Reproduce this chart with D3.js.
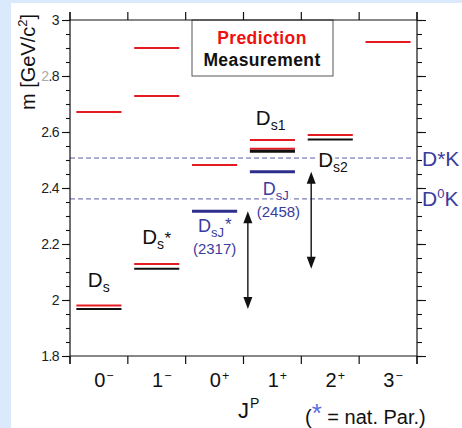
<!DOCTYPE html>
<html><head><meta charset="utf-8">
<script src="https://cdn.jsdelivr.net/npm/d3@7"></script>
<style>
html,body{margin:0;padding:0;background:#dbe9fc;}
svg{display:block;font-family:"Liberation Sans",Arial,sans-serif;}
</style></head><body>
<svg id="c" width="462" height="428"></svg>
<script>
// ---------- data ----------
const categories = ["0−","1−","0+","1+","2+","3−"];
const predictions = [
  {cat:"0−", m:2.671}, {cat:"0−", m:1.980},
  {cat:"1−", m:2.900}, {cat:"1−", m:2.729}, {cat:"1−", m:2.129},
  {cat:"0+", m:2.482},
  {cat:"1+", m:2.571}, {cat:"1+", m:2.540},
  {cat:"2+", m:2.589},
  {cat:"3−", m:2.921}
];
const measurements = [
  {cat:"0−", m:1.968}, {cat:"1−", m:2.112}, {cat:"1+", m:2.531}, {cat:"2+", m:2.573}
];
const newStates = [ {cat:"0+", m:2.317}, {cat:"1+", m:2.458} ];
const thresholds = [ {name:"D", sup:"*", after:"K", m:2.507, supRaised:false}, {name:"D", sup:"0", after:"K", m:2.361, supRaised:true} ];
const arrows = [ {cat:"1+", from:2.317, to:1.968}, {cat:"2+", from:2.458, to:2.112} ];
const yTicks = [1.8, 2.0, 2.2, 2.4, 2.6, 2.8, 3.0];
const yMinor = d3.range(1.8, 3.0001, 0.05);
const stateLabels = [
  {cat:"0−", m:1.968, sub:"s", star:false, mass:null, kind:"meas"},
  {cat:"1−", m:2.112, sub:"s", star:true,  mass:null, kind:"meas"},
  {cat:"1+", m:2.531, sub:"s1", star:false, mass:null, kind:"meas"},
  {cat:"2+", m:2.573, sub:"s2", star:false, mass:null, kind:"meas"},
  {cat:"0+", m:2.317, sub:"sJ", star:true,  mass:"(2317)", kind:"new"},
  {cat:"1+", m:2.458, sub:"sJ", star:false, mass:"(2458)", kind:"new"}
];

// ---------- layout ----------
const svg = d3.select("#c");
const L = 70, R = 417, T = 20, B = 356;
const RED = "#e51b22", NAVY = "#2d2d8c", NAVYTXT = "#3b3b9e", DASH = "#5b5bab";

svg.append("rect").attr("x",11).attr("y",3).attr("width",451).attr("height",425).attr("fill","#fff");

const x = d3.scaleBand().domain(categories).range([L, R]).paddingInner(0.22).paddingOuter(0.11);
const y = d3.scaleLinear().domain([1.8, 3]).range([B, T]);
const step = x.step();
const bstart = c => x(c) - step * 0.11;
const boundaries = categories.map(bstart).concat([R]);

// dashed thresholds
svg.append("g").selectAll("line").data(thresholds).join("line")
  .attr("x1", L).attr("x2", R - 4)
  .attr("y1", d => y(d.m)).attr("y2", d => y(d.m))
  .attr("stroke", DASH).attr("stroke-width", 1).attr("stroke-dasharray", "5,3");

// legend box
svg.append("rect").attr("x", 192).attr("y", T).attr("width", 141).attr("height", 56)
  .attr("fill", "#fff").attr("stroke", "#555").attr("stroke-width", 1);
svg.append("text").attr("x", 262).attr("y", 44).attr("text-anchor","middle").attr("letter-spacing","0.4")
  .attr("font-size", 17.5).attr("font-weight","bold").attr("fill", "#ee1111").text("Prediction");
svg.append("text").attr("x", 262).attr("y", 66).attr("text-anchor","middle").attr("letter-spacing","0.4")
  .attr("font-size", 17.5).attr("font-weight","bold").attr("fill", "#111").text("Measurement");

// axes lines
const ax = svg.append("g").attr("stroke","#111").attr("stroke-width",1.2);
ax.append("line").attr("x1",L).attr("x2",L).attr("y1",T-8).attr("y2",B+8);
ax.append("line").attr("x1",R).attr("x2",R).attr("y1",T-8).attr("y2",B+8);
ax.append("line").attr("x1",L).attr("x2",R).attr("y1",T).attr("y2",T);
ax.append("line").attr("x1",L).attr("x2",R).attr("y1",B).attr("y2",B);
ax.selectAll(".tt").data(boundaries).join("line").attr("class","tt")
  .attr("x1",d=>d).attr("x2",d=>d).attr("y1",T-8).attr("y2",T);
ax.selectAll(".bt").data(boundaries).join("line").attr("class","bt")
  .attr("x1",d=>d).attr("x2",d=>d).attr("y1",B).attr("y2",B+8);

function styleAxis(g){ g.select(".domain").remove(); g.selectAll("line").attr("stroke","#111").attr("stroke-width",1.1); }
svg.append("g").attr("transform",`translate(${L},0)`)
  .call(d3.axisLeft(y).tickValues(yMinor).tickSize(4).tickFormat("")).call(styleAxis);
const yl = svg.append("g").attr("transform",`translate(${L},0)`)
  .call(d3.axisLeft(y).tickValues(yTicks).tickSize(8).tickPadding(3).tickFormat(d3.format("~g"))).call(styleAxis);
yl.selectAll("text").attr("font-size",14).attr("letter-spacing","-0.6").attr("fill","#222")
  .attr("font-family",'"Liberation Sans",Arial,sans-serif');
yl.selectAll(".tick").filter(d => Math.abs(d-2.8)<1e-9).select("text").each(function(){
  const t = d3.select(this); t.text("");
  t.append("tspan").attr("fill","#aaa").text("2");
  t.append("tspan").text(".8");
});
svg.append("g").attr("transform",`translate(${R},0)`)
  .call(d3.axisRight(y).tickValues(yMinor).tickSize(5).tickFormat("")).call(styleAxis);
svg.append("g").attr("transform",`translate(${R},0)`)
  .call(d3.axisRight(y).tickValues(yTicks).tickSize(9).tickFormat("")).call(styleAxis);

// y label
const ylab = svg.append("text").attr("transform","translate(35,62) rotate(-90)")
  .attr("text-anchor","middle").attr("font-size",20).attr("fill","#111");
ylab.append("tspan").text("m [GeV/c");
ylab.append("tspan").attr("font-size",13).attr("dy",-8).text("2");
ylab.append("tspan").attr("dy",8).text("]");

// x labels
categories.forEach(c => {
  const t = svg.append("text").attr("x", x(c) + x.bandwidth()/2 + 5).attr("y", 387)
    .attr("text-anchor","middle").attr("font-size",20).attr("fill","#111");
  t.append("tspan").text(c[0]);
  t.append("tspan").attr("font-size",12.5).attr("dy",-7).attr("dx",1).text(c.slice(1));
});
const jp = svg.append("text").attr("x",238).attr("y",418).attr("font-size",22).attr("fill","#111");
jp.append("tspan").text("J");
jp.append("tspan").attr("font-size",14).attr("dy",-10).attr("dx",1).text("P");
const np = svg.append("text").attr("x",305).attr("y",424).attr("font-size",20).attr("fill","#111");
np.append("tspan").text("(");
np.append("tspan").attr("fill","#5b6fe0").attr("font-size",26).attr("dy",-2).text("*");
np.append("tspan").attr("dy",2).text(" = nat. Par.)");

// levels
const lv = svg.append("g");
lv.selectAll(".p").data(predictions).join("line").attr("class","p")
  .attr("x1",d=>x(d.cat)).attr("x2",d=>x(d.cat)+x.bandwidth())
  .attr("y1",d=>y(d.m)).attr("y2",d=>y(d.m)).attr("stroke",RED).attr("stroke-width",2);
lv.selectAll(".mm").data(measurements).join("line").attr("class","mm")
  .attr("x1",d=>x(d.cat)).attr("x2",d=>x(d.cat)+x.bandwidth())
  .attr("y1",d=>y(d.m)).attr("y2",d=>y(d.m)).attr("stroke","#111")
  .attr("stroke-width",d => d.cat==="1+" ? 3 : 2);
lv.selectAll(".n").data(newStates).join("line").attr("class","n")
  .attr("x1",d=>x(d.cat)).attr("x2",d=>x(d.cat)+x.bandwidth())
  .attr("y1",d=>y(d.m)).attr("y2",d=>y(d.m)).attr("stroke",NAVY).attr("stroke-width",3);

// arrows
const arrowDx = [-2, 3.5];
arrows.forEach((a, i) => {
  const ax0 = x(a.cat) + arrowDx[i];
  const y0 = y(a.from), y1 = y(a.to);
  svg.append("line").attr("x1",ax0).attr("x2",ax0).attr("y1",y0+10).attr("y2",y1-10)
    .attr("stroke","#111").attr("stroke-width",1.4);
  svg.append("path").attr("d",`M${ax0},${y0} L${ax0-4.5},${y0+12} L${ax0+4.5},${y0+12} Z`).attr("fill","#111");
  svg.append("path").attr("d",`M${ax0},${y1} L${ax0-4.5},${y1-12} L${ax0+4.5},${y1-12} Z`).attr("fill","#111");
});

// state labels
const off = [
  {dx:11.5, dy:-22}, {dx:8, dy:-25}, {dx:6, dy:-26}, {dx:10.5, dy:27},
  {dx:6, dy:21, mdx:0, mdy:43}, {dx:13, dy:23, mdx:6, mdy:45}
];
stateLabels.forEach((s, i) => {
  const o = off[i];
  const isNew = s.kind === "new";
  const col = isNew ? NAVYTXT : "#111";
  const t = svg.append("text").attr("x", x(s.cat) + o.dx).attr("y", y(s.m) + o.dy)
    .attr("font-size", isNew ? 18 : 20.5).attr("fill", col)
    .attr("stroke","#fff").attr("stroke-width",6).attr("stroke-linejoin","round").attr("paint-order","stroke");
  t.append("tspan").text("D");
  t.append("tspan").attr("font-size", isNew ? 13 : 14).attr("dy", 5).text(s.sub);
  if (s.star) t.append("tspan").attr("stroke","none").attr("font-size", 17)
    .attr("dy", isNew ? -7 : -5).attr("dx", isNew ? 1 : 0.5).text("*");
  if (s.mass) {
    svg.append("text").attr("x", x(s.cat) + x.bandwidth()/2 + o.mdx).attr("y", y(s.m) + o.mdy)
      .attr("text-anchor","middle").attr("font-size",15).attr("fill",col)
      .attr("stroke","#fff").attr("stroke-width",5).attr("stroke-linejoin","round").attr("paint-order","stroke")
      .text(s.mass);
  }
});

// threshold labels
thresholds.forEach(d => {
  const t = svg.append("text").attr("x", R + 5).attr("y", y(d.m) + 7.5)
    .attr("font-size", 21).attr("fill", NAVYTXT);
  t.append("tspan").text(d.name);
  if (d.supRaised) {
    t.append("tspan").attr("font-size",13).attr("dy",-8).text(d.sup);
    t.append("tspan").attr("dy",8).text(d.after);
  } else {
    t.append("tspan").text(d.sup + d.after);
  }
});
</script>
</body></html>
